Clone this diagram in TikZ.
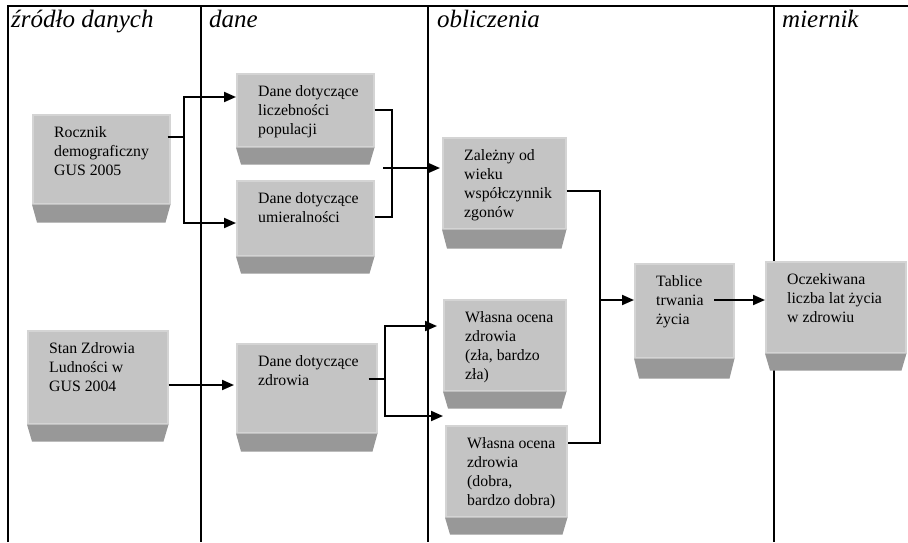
\documentclass[tikz,border=0pt]{standalone}
\usepackage{fontspec}
\setmainfont{Liberation Serif}
\usetikzlibrary{arrows.meta,calc}
\definecolor{facegray}{RGB}{196,196,196}
\definecolor{edgegray}{RGB}{212,212,212}
\definecolor{trapgray}{RGB}{152,152,152}
\tikzset{
  face/.style={fill=facegray, draw=edgegray, line width=1.5pt, inner sep=0pt},
  boxtext/.style={font=\fontsize{15.8}{19}\selectfont, align=left, inner sep=0pt},
  header/.style={font=\fontsize{25}{30}\selectfont\itshape, anchor=base west, inner sep=0pt},
  frameline/.style={line width=1.2pt},
  stub/.style={line width=1.3pt},
  bold/.style={line width=2pt},
  arr/.style={line width=2pt, -{Triangle[length=12pt,width=10pt]}}
}
\newcommand\mybox[7]{%
  \node[face, anchor=north west, minimum width={#4-#2}, minimum height={#5-#3}] (#1) at (#2,#3) {};
  \fill[trapgray] (#1.south west) -- (#1.south east) -- ($(#1.south east)+(-5,#6-#5)$) -- ($(#1.south west)+(5,#6-#5)$) -- cycle;
  \node[boxtext, anchor=north west] (#1-t) at ($(#1.north west)+(22,12)$) {#7};
}
\begin{document}
\begin{tikzpicture}[x=1pt,y=-1pt]
\useasboundingbox (0,0) rectangle (908,542);
% frame
\draw[frameline] (8,542) -- (8,6) -- (908,6);
\draw[frameline] (201,6) -- (201,542);
\draw[frameline] (428,6) -- (428,542);
\draw[frameline] (774,6) -- (774,542);
% headers
\node[header] (h1) at (11,27) {źródło danych};
\node[header] (h2) at (209,27) {dane};
\node[header] (h3) at (437,27) {obliczenia};
\node[header] (h4) at (782,27) {miernik};
% boxes
\mybox{rocz}{32}{114}{169}{203}{221}{Rocznik\\demograficzny\\GUS 2005}
\mybox{stan}{27}{330}{167}{423}{440}{Stan Zdrowia\\Ludności w\\GUS 2004}
\mybox{lic}{236}{73}{373}{146}{163}{Dane dotyczące\\liczebności\\populacji}
\mybox{umi}{236}{180}{373}{255}{272}{Dane dotyczące\\umieralności}
\mybox{zdr}{236}{343}{376}{432}{450}{Dane dotyczące\\zdrowia}
\mybox{zal}{442}{137}{565}{228}{247}{Zależny od\\wieku\\współczynnik\\zgonów}
\mybox{zla}{443}{299}{565}{390}{407}{Własna ocena\\zdrowia\\(zła, bardzo\\zła)}
\mybox{dob}{445}{425}{566}{516}{533}{Własna ocena\\zdrowia\\(dobra,\\bardzo dobra)}
\mybox{tab}{634}{263}{733}{357}{377}{Tablice\\trwania\\życia}
\mybox{ocz}{765}{261}{905}{352}{369}{Oczekiwana\\liczba lat życia\\w zdrowiu}
% connectors: Rocznik -> data boxes
\coordinate (j1) at (184,137);
\coordinate (j1t) at (184,97);
\coordinate (j1b) at (184,223);
\draw[stub] ($(rocz.east |- j1)+(-3,0)$) -- (j1);
\draw[bold] (j1t) -- (j1b);
\draw[arr] ($(j1t)+(-1,0)$) -- (lic.west |- j1t);
\draw[arr] ($(j1b)+(-1,0)$) -- (umi.west |- j1b);
% data boxes -> Zalezny
\coordinate (j2a) at (392,110);
\coordinate (j2b) at (392,217);
\coordinate (j2s) at (383,168);
\draw[stub] (lic.east |- j2a) -- (j2a) -- (j2b) -- (umi.east |- j2b);
\draw[arr] (j2s) -- ($(zal.west |- j2s)+(-2,0)$);
% Stan -> Dane zdrowia
\coordinate (a3) at (167,385);
\draw[arr] (stan.east |- a3) -- ($(zdr.west |- a3)+(-2,0)$);
% Dane zdrowia -> Wlasna ocena
\coordinate (j4) at (385,379);
\coordinate (j4t) at (385,326);
\coordinate (j4b) at (385,416);
\draw[stub] ($(zdr.east |- j4)+(-9,0)$) -- (j4);
\draw[bold] (j4t) -- (j4b);
\draw[arr] ($(j4t)+(-1,0)$) -- ($(zla.west |- j4t)+(-6,0)$);
\draw[arr] ($(j4b)+(-1,0)$) -- ($(dob.west |- j4b)+(-2,0)$);
% Zalezny & Wlasna dobra -> Tablice
\coordinate (j5t) at (600,191);
\coordinate (j5b) at (600,443);
\coordinate (j5m) at (600,300);
\draw[stub] (zal.east |- j5t) -- (j5t) -- (j5b) -- (dob.east |- j5b);
\draw[arr] (j5m) -- (tab.west |- j5m);
% Tablice -> Oczekiwana
\coordinate (a6) at (714,300);
\draw[arr] (a6) -- (ocz.west |- a6);
\end{tikzpicture}
\end{document}
